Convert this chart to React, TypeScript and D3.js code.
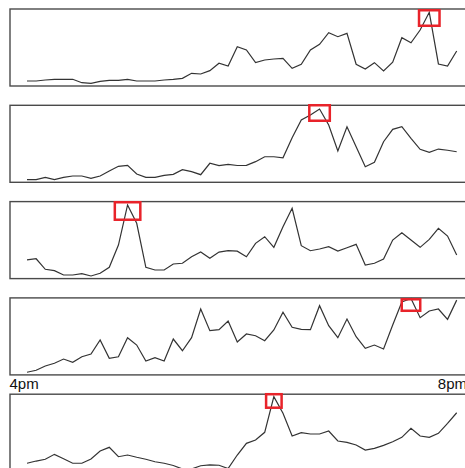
import React from "react";
import * as d3 from "d3";

const seriesA = [6.5, 6.5, 7.8, 8.7, 8.7, 8.7, 4.3, 3.5, 6.1, 7.4, 7.4, 8.7, 6.5, 6.5, 6.5, 7.8, 8.7, 10, 16.5, 15.6, 19.9, 29.5, 26, 51, 46.8, 30.3, 33.8, 35.1, 36, 23, 28.2, 46.8, 54.2, 69.2, 64, 68.4, 28.2, 22.1, 30.3, 19.5, 30.8, 62.7, 56.2, 72.7, 95.7, 28.6, 26, 45.5];
const seriesB = [3.4, 3.4, 6.5, 3.4, 6.5, 8.2, 8.2, 5.2, 8.2, 14.7, 20.8, 22.1, 10.8, 6.5, 6.5, 9.1, 10.4, 16.4, 13.8, 9.9, 24.7, 21.6, 23.4, 21.8, 22.1, 26.8, 33.2, 33.2, 31.9, 57.9, 80.9, 87.4, 95.2, 74.4, 40.6, 72.2, 46.2, 20.3, 26, 52.7, 68.8, 72.2, 57.1, 42.9, 39, 43.2, 41.6, 39.7];
const seriesC = [24.2, 25.8, 12.1, 10.3, 4.7, 4.7, 6.4, 3.4, 6.9, 14.7, 43.6, 95.6, 71.8, 14.7, 11.2, 11.2, 19, 19.9, 28.4, 34.5, 26.4, 34.5, 36.2, 35.6, 28.4, 45.8, 54.4, 40.6, 67.4, 91.3, 42.7, 36.2, 38.4, 41.4, 35.8, 40.1, 44.5, 17.7, 19.9, 25.5, 50.1, 59.6, 50.1, 40.6, 51, 65.3, 55.3, 30.6];
const seriesD = [3.4, 6, 11.6, 15.1, 20.6, 16.4, 23.6, 27.1, 45.3, 21.6, 23.6, 48.3, 38.8, 18.1, 22.3, 18.1, 46.6, 31.4, 48.3, 85.6, 57.4, 58.7, 70, 42.7, 53.1, 50.9, 44.4, 58.3, 81.3, 61.8, 59.2, 58.7, 89.9, 63.9, 48.3, 72.6, 49.6, 34.5, 38.8, 33.6, 64.8, 94.7, 99.2, 74.3, 83, 85.6, 72.2, 97.1];
const seriesE = [10.3, 13.2, 15.5, 21.9, 16.2, 10.3, 10.3, 15.8, 26.2, 31, 18.8, 21, 18.1, 15.5, 12.3, 10.3, 7.4, 2.9, 2.9, 7.1, 8.1, 7.7, 3.5, 21, 36.2, 40.5, 50.5, 96.8, 75.2, 45.7, 50, 48.3, 48.3, 52.2, 39.2, 37.5, 34, 27.5, 29.7, 33.6, 38.3, 44, 55.7, 45.7, 44, 49.2, 62.2, 75.9];

const allSeries = [seriesA, seriesB, seriesC, seriesD, seriesE];
const tickLabels = ["4pm", "8pm"];

// style config for highlight boxes (outer width, outer height, top offset from peak)
const boxW = [23, 23, 28, 21, 18];
const boxH = [18, 18, 20, 14, 16];
const boxTop = [-3.3, -5, -4, -0.5, -3.7];

const W = 465;
const H = 468;
const panelLeft = 10;
const panelRight = 467;
const firstTop = 9;
const stride = 96.3;
const panelH = 77;
const strokeW = 2.5;

export default function App() {
  const n = seriesA.length;
  const x = d3.scaleLinear().domain([0, n - 1]).range([27, 456.7]);
  return (
    <svg
      width={W}
      height={H}
      style={{ position: "absolute", left: 0, top: 0, display: "block" }}
    >
      {allSeries.map((s, k) => {
        const top = firstTop + stride * k;
        const bottom = top + panelH;
        const y = d3.scaleLinear().domain([0, 100]).range([bottom, top]);
        const line = d3
          .line<number>()
          .x((_, i) => x(i))
          .y((d) => y(d));
        const maxI = d3.maxIndex(s);
        const px = x(maxI);
        const py = y(s[maxI]);
        const bw = boxW[k] - strokeW;
        const bh = boxH[k] - strokeW;
        return (
          <g key={k}>
            <rect
              x={panelLeft}
              y={top}
              width={panelRight - panelLeft + 20}
              height={panelH}
              fill="white"
              stroke="#4a4a4a"
              strokeWidth={1.4}
            />
            <path d={line(s) || ""} fill="none" stroke="#333" strokeWidth={1.2} />
            <rect
              x={px - bw / 2}
              y={py + boxTop[k] + strokeW / 2}
              width={bw}
              height={bh}
              fill="none"
              stroke="#e8232a"
              strokeWidth={strokeW}
            />
          </g>
        );
      })}
      <text
        x={panelLeft - 0.5}
        y={389}
        fontFamily="Liberation Sans, Arial, sans-serif"
        fontSize={15}
        fill="#111"
      >
        {tickLabels[0]}
      </text>
      <text
        x={panelRight}
        y={389}
        textAnchor="end"
        fontFamily="Liberation Sans, Arial, sans-serif"
        fontSize={15}
        fill="#111"
      >
        {tickLabels[1]}
      </text>
    </svg>
  );
}
